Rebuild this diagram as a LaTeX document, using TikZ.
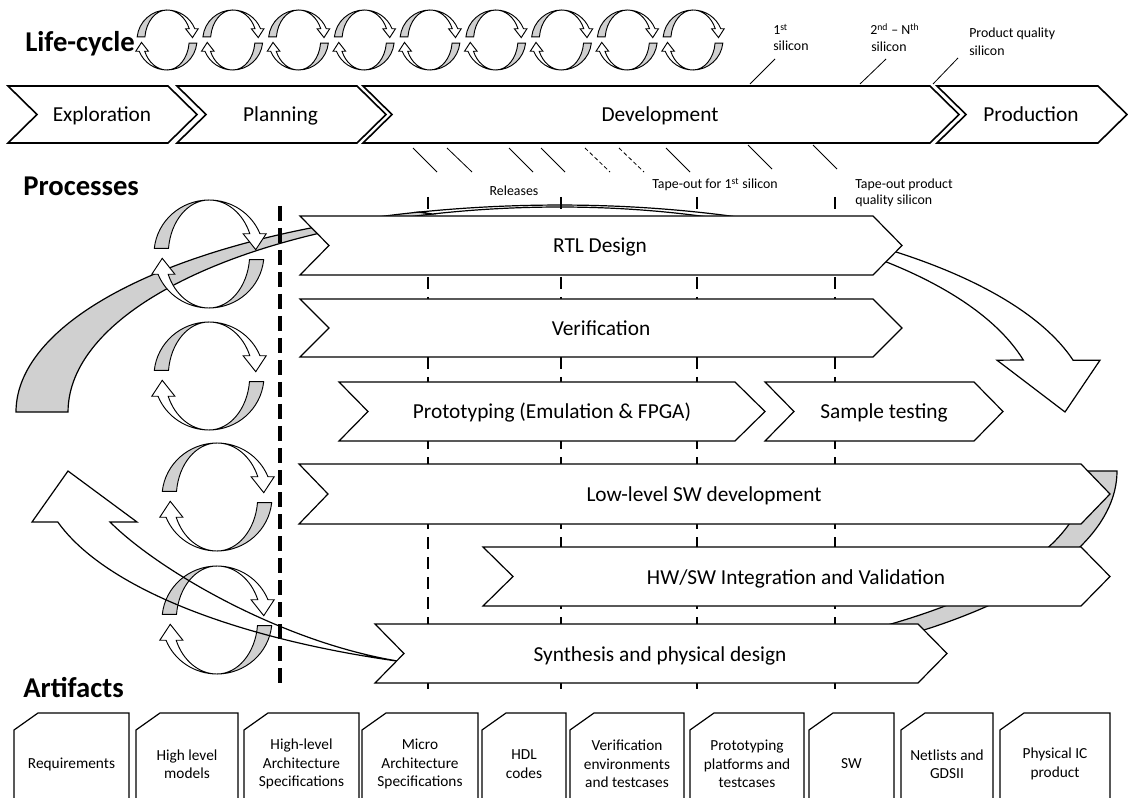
\documentclass[tikz,border=0pt]{standalone}
\usepackage{fontspec}
\setmainfont{Carlito}
\usetikzlibrary{calc}
\definecolor{ribbon}{RGB}{208,208,208}

\tikzset{
  outline/.style={draw=black, line width=0.9pt, line join=miter},
  phase/.style={outline, fill=white, line width=1.2pt},
  proc/.style={outline, fill=white},
  back/.style={outline, fill=ribbon},
  front/.style={outline, fill=white},
  iconback/.style={draw=black, line width=0.7pt, fill=ribbon},
  iconfront/.style={draw=black, line width=0.7pt, fill=white},
  milestone/.style={line width=2pt, dash pattern=on 9pt off 6pt},
  border/.style={line width=2.4pt, dash pattern=on 11pt off 5.5pt},
  hatch/.style={line width=0.6pt},
  heading/.style={font=\bfseries\fontsize{21.5}{24}\selectfont, anchor=base west, inner sep=0pt},
  phasetext/.style={font=\fontsize{16}{19}\selectfont, anchor=base, inner sep=0pt},
  note/.style={font=\fontsize{10.4}{12}\selectfont, anchor=base west, inner sep=0pt},
  doc/.style={outline, fill=white},
  doctext/.style={font=\fontsize{11.5}{13.8}\selectfont, align=center, inner sep=0pt},
  % circular "iterate" symbol: two twisted ribbon arrows
  cyc/.pic={
    \foreach \r in {0,180}{
      \begin{scope}[rotate=\r]
        \path[iconback] (174:1) arc[start angle=174,end angle=90,radius=1]
          arc[start angle=90,end angle=174,x radius=0.74,y radius=1] -- cycle;
        \path[iconfront] (90:1) arc[start angle=90,end angle=22,radius=1]
          -- (1.04,0.375) -- (0.85,0.08) -- (0.62,0.375) -- (0.742,0.375)
          arc[start angle=22,end angle=90,x radius=0.80,y radius=1] -- cycle;
      \end{scope}
    }
  }
}

\newcommand\artifact[4]{%
  \draw[doc] (#2,730) -- ({#2+24},713) -- (#3,713) -- (#3,801) -- (#2,801) -- cycle;
  \node[doctext] (#1) at ({(#2+#3)/2},764) {#4};
}

\begin{document}
\begin{tikzpicture}[x=0.75pt,y=-0.75pt]
\useasboundingbox (0,0) rectangle (1128,798);

% ---- large ribbon arrow from the early phases over RTL design ----
\path[back] (16,412) arc[start angle=180,end angle=255,x radius=544,y radius=207]
  -- (432.7,214) arc[start angle=255,end angle=180,x radius=492,y radius=205] -- cycle;
\path[front] (419.2,212.1) arc[start angle=255,end angle=270,x radius=544,y radius=207]
  arc[start angle=270,end angle=345.5,x radius=530,y radius=207]
  -- (1100,360.2) -- (1065,412) -- (997,360.2) -- (1023.3,360)
  arc[start angle=345.3,end angle=270,x radius=479,y radius=205]
  arc[start angle=270,end angle=255,x radius=492,y radius=205] -- cycle;

% ---- large ribbon arrow returning from SW development (back face) ----
\path[back] (1087,471) -- (1117,471) arc[start angle=0,end angle=90,x radius=517,y radius=204]
  arc[start angle=90,end angle=109.8,x radius=560,y radius=204]
  .. controls (700,690) and (1087,620) .. (1087,471) -- cycle;

% ---- phase border and milestone lines ----
\draw[border] (280,206) -- (280,690);
\foreach \x in {428,561,697,835} \draw[milestone] (\x,197) -- (\x,696);

% ---- iteration symbols ----
\foreach \i in {0,...,8} \pic[xscale=30,yscale=-30] at ({167+65.75*\i},40) {cyc};
\pic[xscale=55,yscale=-54] at (209,254) {cyc};
\pic[xscale=55,yscale=-54] at (209,376) {cyc};
\pic[xscale=55,yscale=-54] at (217,497) {cyc};
\pic[xscale=55,yscale=-54] at (217,620) {cyc};

% ---- returning ribbon arrow (front face) ----
\draw[outline] (410.3,662.9) arc[start angle=109.8,end angle=165.5,x radius=560,y radius=204]
  -- (32,522) -- (68,471) -- (137,522) -- (110,522)
  .. controls (160,572) and (290,647) .. (410.3,662.9) -- cycle;

% ---- processes ----
\draw[proc] (300,216) -- (873,216) -- (902,245.5) -- (873,275) -- (300,275) -- (329,245.5) -- cycle;
\node[phasetext] (rtl) at (600,253) {RTL Design};
\draw[proc] (300,299) -- (873,299) -- (902,328) -- (873,357) -- (300,357) -- (329,328) -- cycle;
\node[phasetext] (ver) at (601,335.5) {Verification};
\draw[proc] (339,382) -- (735,382) -- (765,411.5) -- (735,441) -- (339,441) -- (368,411.5) -- cycle;
\node[phasetext] (proto) at (552,419) {Prototyping (Emulation \& FPGA)};
\draw[proc] (765,382) -- (974,382) -- (1003,411.5) -- (974,441) -- (765,441) -- (794,411.5) -- cycle;
\node[phasetext] (sample) at (884,419) {Sample testing};
\draw[proc] (299,464) -- (1081,464) -- (1110,494) -- (1081,524) -- (299,524) -- (328,494) -- cycle;
\node[phasetext] (llsw) at (704,501.5) {Low-level SW development};
\draw[proc] (483,547) -- (1081,547) -- (1110,576.5) -- (1081,606) -- (483,606) -- (513,576.5) -- cycle;
\node[phasetext] (hwsw) at (796,584) {HW/SW Integration and Validation};
\draw[proc] (375,624) -- (918,624) -- (947,653.5) -- (918,683) -- (375,683) -- (404,653.5) -- cycle;
\node[phasetext] (synth) at (660,661) {Synthesis and physical design};

% ---- life-cycle phases ----
\draw[phase] (8,86) -- (168,86) -- (197,114.5) -- (168,143) -- (8,143) -- (37,114.5) -- cycle;
\node[phasetext] (expl) at (102,121.5) {Exploration};
\draw[phase] (177,86) -- (357,86) -- (386,114.5) -- (357,143) -- (177,143) -- (206,114.5) -- cycle;
\node[phasetext] (plan) at (280.5,121.5) {Planning};
\draw[phase] (363,86) -- (930,86) -- (959,114.5) -- (930,143) -- (363,143) -- (392,114.5) -- cycle;
\node[phasetext] (dev) at (660,121.5) {Development};
\draw[phase] (937,86) -- (1098,86) -- (1127,114.5) -- (1098,143) -- (937,143) -- (966,114.5) -- cycle;
\node[phasetext] (prod) at (1031,121.5) {Production};

% ---- headings ----
\node[heading] (lc) at (25,52) {Life-cycle};
\node[heading] (pr) at (23,196) {Processes};
\node[heading] (ar) at (23,697) {Artifacts};

% ---- silicon milestones ----
\draw[hatch] (750,84) -- (775,59);
\draw[hatch] (860,84) -- (886,59);
\draw[hatch] (933,84) -- (958,58);
\node[note] (s1a) at (773,35) {1\textsuperscript{st}};
\node[note] (s1b) at (773,51) {silicon};
\node[note] (s2a) at (870,35) {2\textsuperscript{nd} – N\textsuperscript{th}};
\node[note] (s2b) at (871,52) {silicon};
\node[note] (s3a) at (969,38) {Product quality};
\node[note] (s3b) at (969,56) {silicon};

% ---- releases and tape-outs ----
\draw[hatch] (413,148) -- (437,172);
\draw[hatch] (447,148) -- (472,172);
\draw[hatch] (509,148) -- (533,172);
\draw[hatch] (541,148) -- (565,172);
\draw[hatch, dash pattern=on 3pt off 2pt] (585,148) -- (610,172);
\draw[hatch, dash pattern=on 3pt off 2pt] (619,148) -- (644,172);
\draw[hatch] (666,148) -- (690,172);
\draw[hatch] (748,145) -- (772,169);
\draw[hatch] (813,145) -- (837,169);
\node[note, anchor=base] (rel) at (514,196) {Releases};
\node[note, anchor=base] (to1) at (715,189) {Tape-out for 1\textsuperscript{st} silicon};
\node[note] (tpa) at (855,189) {Tape-out product};
\node[note] (tpb) at (855,205) {quality silicon};

% ---- artifacts ----
\artifact{req}{14}{129}{Requirements}
\artifact{hlm}{136}{238}{High level\\models}
\artifact{hla}{244}{359}{High-level\\Architecture\\Specifications}
\artifact{mas}{362}{478}{Micro\\Architecture\\Specifications}
\artifact{hdl}{482}{566}{HDL\\codes}
\artifact{venv}{570}{684}{Verification\\environments\\and testcases}
\artifact{ppf}{690}{804}{Prototyping\\platforms and\\testcases}
\artifact{sw}{809}{894}{SW}
\artifact{net}{901}{993}{Netlists and\\GDSII}
\artifact{phy}{1000}{1110}{Physical IC\\product}
\end{tikzpicture}
\end{document}
